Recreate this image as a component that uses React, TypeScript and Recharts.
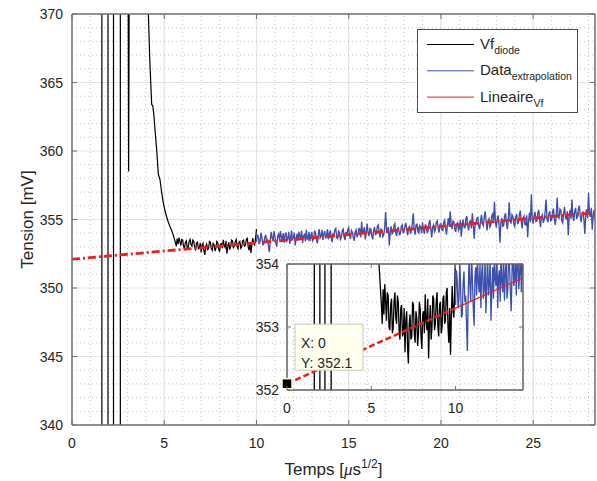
import React from 'react';
import {
  ComposedChart,
  Line,
  XAxis,
  YAxis,
  CartesianGrid,
  ReferenceLine,
  ReferenceDot,
  Legend,
} from 'recharts';

const FONT = '"Liberation Sans", Arial, Helvetica, sans-serif';
const TXT = '#262626';
const AXIS = '#707070';
const BLACK = '#000000';
const BLUE = '#3c4fae';
const RED = '#f21c1c';

// ---------- axes ----------
const mainXDomain = [0, 28.35];
const mainYDomain = [340, 370];
const mainXTicks = [0, 5, 10, 15, 20, 25];
const mainYTicks = [340, 345, 350, 355, 360, 365, 370];
const mainXMinor = [1, 2, 3, 4, 6, 7, 8, 9, 11, 12, 13, 14, 16, 17, 18, 19, 21, 22, 23, 24, 26, 27, 28];
const mainYMinor = [341, 342, 343, 344, 346, 347, 348, 349, 351, 352, 353, 354, 356, 357, 358, 359, 361, 362, 363, 364, 366, 367, 368, 369];

const insetXDomain = [0, 14];
const insetYDomain = [352, 354];
const insetXTicks = [0, 5, 10];
const insetYTicks = [352, 353, 354];

// ---------- data ----------
// Vf diode: switching transient (values outside the view are off-scale)
const transientX = [0, 1.62, 1.62, 1.95, 1.95, 2.25, 2.25, 2.62, 2.62, 3.03, 3.07, 3.12, 4.05, 4.14, 4.22, 4.32, 4.38, 4.44, 4.52, 4.59, 4.68, 4.77, 4.86, 4.95, 5.05, 5.13, 5.22, 5.31, 5.40, 5.48];
const transientY = [380, 380, 330, 330, 380, 380, 330, 330, 380, 380, 358.5, 380, 380, 370, 366.5, 363.4, 363.3, 362.6, 361.2, 360.1, 358.3, 357.9, 357.0, 356.2, 355.6, 355.2, 354.8, 354.5, 354.2, 353.9];

const sampleStep = 0.05;
// Vf diode: noisy plateau, sampled every 0.05 from 5.6 to 10.0
const blackNoiseStart = 5.6;
const blackNoiseY = [
  353.35, 353.05, 353.60, 353.20, 353.68, 353.40, 353.10, 353.55, 353.50, 353.00,
  352.95, 353.35, 353.45, 352.90, 352.98, 353.40, 353.55, 353.15, 353.05, 353.50,
  353.40, 352.95, 352.80, 353.30, 353.35, 352.85, 352.90, 353.30, 352.60, 353.10,
  353.25, 352.70, 352.42, 353.05, 353.20, 352.80, 352.85, 353.40, 353.35, 352.90,
  352.75, 353.25, 353.15, 352.70, 352.90, 353.40, 353.30, 352.85, 352.65, 353.20,
  353.25, 352.90, 353.52, 353.10, 352.95, 353.45, 352.50, 353.05, 353.35, 352.80,
  353.00, 353.50, 353.45, 352.95, 353.05, 353.40, 353.55, 353.00, 352.85, 353.35,
  353.40, 352.90, 353.00, 353.45, 353.50, 353.05, 353.10, 353.55, 353.62, 353.00,
  352.75, 353.30, 352.56, 353.20, 353.65, 353.25, 353.15, 353.60, 354.30,
];

// Data extrapolation, sampled every 0.05 from 10.0
const blueStart = 10.0;
const blueY = [
  353.35, 353.90, 353.72, 353.30, 353.45, 354.05, 353.60, 353.15, 353.20, 353.70, 353.88, 353.40, 353.50, 353.05, 352.62, 353.55, 354.10, 353.65, 353.40, 354.15,
  353.75, 353.30, 353.02, 353.80, 353.95, 353.50, 354.15, 353.70, 353.55, 354.00, 353.30, 353.85, 354.05, 353.45, 353.60, 354.10, 353.22, 353.65, 354.20, 353.50,
  353.70, 354.05, 353.10, 353.60, 353.95, 353.45, 354.12, 353.75, 353.65, 354.20, 353.30, 353.80, 353.90, 353.40, 354.25, 353.70, 353.55, 354.10, 353.42, 353.85,
  354.10, 353.45, 353.60, 354.20, 353.98, 353.55, 353.25, 353.90, 354.30, 353.65, 353.75, 354.25, 353.50, 353.95, 354.15, 353.60, 353.85, 354.30, 353.55, 353.95,
  354.20, 353.70, 353.35, 353.95, 353.90, 354.25, 354.35, 353.65, 353.60, 354.15, 354.05, 353.55, 353.70, 354.20, 354.30, 353.75, 353.50, 354.10, 353.80, 354.25,
  354.40, 353.80, 353.60, 354.20, 354.05, 353.65, 353.45, 354.10, 354.25, 353.75, 353.85, 354.35, 354.30, 353.70, 354.85, 353.95, 354.15, 354.45, 353.55, 354.05,
  354.70, 354.00, 353.80, 354.35, 354.30, 353.85, 353.55, 354.20, 354.45, 353.90, 353.95, 354.50, 354.60, 354.05, 353.70, 354.30, 354.25, 353.75, 353.90, 354.40,
  355.55, 354.30, 354.00, 354.45, 353.10, 354.10, 354.50, 353.95, 354.05, 354.55, 354.70, 354.00, 353.80, 354.35, 354.40, 353.90, 353.95, 354.50, 354.60, 354.05,
  354.10, 354.55, 354.75, 354.15, 353.85, 354.40, 354.50, 353.95, 354.20, 354.70, 355.45, 354.25, 353.90, 354.60, 354.65, 354.10, 354.00, 354.55, 354.45, 354.00,
  354.80, 354.25, 353.95, 354.60, 354.55, 354.05, 354.15, 354.75, 354.95, 354.30, 353.70, 354.45, 354.60, 354.10, 354.25, 354.80, 354.90, 354.35, 354.05, 354.65,
  354.70, 354.25, 354.20, 354.80, 354.95, 354.35, 353.90, 354.60, 355.10, 354.45, 355.60, 354.70, 354.30, 354.90, 354.85, 354.30, 354.10, 354.65, 354.75, 354.20,
  354.35, 354.95, 353.75, 354.50, 355.00, 354.45, 354.40, 355.05, 355.25, 354.55, 354.20, 354.85, 354.90, 354.35, 355.45, 354.70, 353.60, 354.60, 354.80, 355.10,
  355.15, 354.50, 354.30, 354.95, 355.35, 354.70, 354.55, 355.20, 355.60, 354.80, 354.20, 354.90, 355.05, 354.45, 354.60, 355.25, 355.40, 354.75, 356.30, 354.90,
  354.40, 355.05, 355.30, 354.60, 353.30, 354.85, 355.10, 354.50, 354.55, 355.25, 355.45, 354.75, 354.30, 355.00, 356.25, 354.95, 354.70, 355.35, 355.20, 354.65,
  354.50, 355.15, 355.40, 354.70, 354.75, 355.35, 355.65, 354.85, 354.35, 355.10, 355.25, 354.65, 354.60, 355.30, 353.70, 354.90, 355.50, 354.80, 356.85, 355.05,
  354.70, 355.30, 355.55, 354.85, 354.90, 355.50, 355.70, 354.95, 354.45, 355.20, 355.35, 354.75, 355.00, 355.60, 356.45, 355.05, 354.80, 355.40, 355.60, 354.90,
  354.95, 355.55, 355.80, 355.00, 354.60, 355.35, 356.60, 355.15, 355.10, 355.75, 355.65, 354.90, 354.75, 355.45, 355.90, 355.10, 355.05, 355.60, 353.85, 355.25,
  355.70, 355.05, 356.45, 355.20, 354.90, 355.60, 355.85, 355.10, 355.15, 355.80, 356.00, 355.25, 354.80, 355.50, 355.55, 354.95, 353.95, 355.40, 355.75, 355.10,
  356.95, 355.40, 355.20, 355.85, 354.25, 355.30, 355.70, 355.05, 355.10,
];

// Linear fit (Lineaire Vf)
const fitX = [0, 10, 28.35];
const fitY = [352.1, 353.3, 355.5];

// Legend
const legendNames = ['Vf', 'Data', 'Lineaire'];
const legendSubs = ['diode', 'extrapolation', 'Vf'];
const legendColors = [BLACK, BLUE, RED];

// ---------- build series ----------
const xAt = (start: number, i: number) => Math.round((start + i * sampleStep) * 1000) / 1000;
const blackData = [
  ...transientX.map((x, i) => ({ x, y: transientY[i] })),
  ...blackNoiseY.map((y, i) => ({ x: xAt(blackNoiseStart, i), y })),
];
const blueData = blueY.map((y, i) => ({ x: xAt(blueStart, i), y }));
const fitData = fitX.map((x, i) => ({ x, y: fitY[i] }));
const fitLeft = fitData.slice(0, 2);
const fitRight = fitData.slice(1);

// ---------- ticks ----------
type Side = 'bottom' | 'top' | 'left' | 'right';
const makeTick = (side: Side, len: number, showLabel: boolean, labelGap: number) => (p: any) => {
  const { x, y, payload } = p;
  let line: any = null;
  let label: any = null;
  if (side === 'bottom') {
    line = <line x1={x} x2={x} y1={y} y2={y - len} stroke={AXIS} strokeWidth={1} />;
    if (showLabel)
      label = (
        <text x={x} y={y + labelGap} textAnchor="middle" fontSize={14} fill={TXT} fontFamily={FONT}>
          {payload.value}
        </text>
      );
  } else if (side === 'top') {
    line = <line x1={x} x2={x} y1={y} y2={y + len} stroke={AXIS} strokeWidth={1} />;
  } else if (side === 'left') {
    line = <line x1={x} x2={x + len} y1={y} y2={y} stroke={AXIS} strokeWidth={1} />;
    if (showLabel)
      label = (
        <text x={x - labelGap} y={y} dy="0.36em" textAnchor="end" fontSize={14} fill={TXT} fontFamily={FONT}>
          {payload.value}
        </text>
      );
  } else {
    line = <line x1={x} x2={x - len} y1={y} y2={y} stroke={AXIS} strokeWidth={1} />;
  }
  return (
    <g>
      {line}
      {label}
    </g>
  );
};

const mainBottomTick = makeTick('bottom', 5, true, 23);
const mainTopTick = makeTick('top', 5, false, 0);
const mainLeftTick = makeTick('left', 5, true, 9);
const mainRightTick = makeTick('right', 5, false, 0);
const insetBottomTick = makeTick('bottom', 4, true, 23);
const insetTopTick = makeTick('top', 4, false, 0);
const insetLeftTick = makeTick('left', 4, true, 8);
const insetRightTick = makeTick('right', 4, false, 0);

// ---------- titles ----------
const XTitle = (p: any) => {
  const vb = p.viewBox || { x: 72, y: 425, width: 523, height: 56 };
  return (
    <text x={vb.x + vb.width / 2} y={vb.y + 50} textAnchor="middle" fontSize={17} fill={TXT} fontFamily={FONT}>
      Temps [
      <tspan fontStyle="italic" fontFamily='"Liberation Serif", serif'>μ</tspan>
      s
      <tspan fontSize={12} dy={-7}>1/2</tspan>
      <tspan dy={7}>]</tspan>
    </text>
  );
};

const YTitle = (p: any) => {
  const vb = p.viewBox || { x: 0, y: 14, width: 72, height: 411 };
  const cx = 33;
  const cy = vb.y + vb.height / 2;
  return (
    <text x={cx} y={cy} transform={`rotate(-90, ${cx}, ${cy})`} textAnchor="middle" fontSize={17} fill={TXT} fontFamily={FONT}>
      Tension [mV]
    </text>
  );
};

// ---------- legend ----------
const LegendBox = () => (
  <div
    style={{
      width: 161,
      height: 84,
      boxSizing: 'border-box',
      border: '1px solid #4d4d4d',
      background: '#ffffff',
    }}
  >
    <svg width={159} height={82} style={{ display: 'block' }}>
      {legendNames.map((n, i) => {
        const cy = 14.5 + i * 26.3;
        return (
          <g key={n}>
            <line x1={9} x2={56} y1={cy} y2={cy} stroke={legendColors[i]} strokeWidth={1} />
            <text x={62} y={cy + 4.5} fontSize={15} fill={TXT} fontFamily={FONT}>
              {n}
              <tspan fontSize={10.5} dy={5}>
                {legendSubs[i]}
              </tspan>
            </text>
          </g>
        );
      })}
    </svg>
  </div>
);

// ---------- data tip ----------
const DataTip = (p: any) => {
  const { cx, cy } = p;
  return (
    <g>
      <rect x={cx + 8} y={cy - 59.5} width={68} height={46} fill="#ffffee" stroke="#c9c9b8" strokeWidth={1} />
      <text x={cx + 14} y={cy - 36} fontSize={14} fill={TXT} fontFamily={FONT}>
        {`X: ${fitX[0]}`}
      </text>
      <text x={cx + 14} y={cy - 16} fontSize={14} fill={TXT} fontFamily={FONT}>
        {`Y: ${fitY[0]}`}
      </text>
      <rect x={cx - 5} y={cy - 5} width={10} height={10} fill="#000000" stroke="#ffffe0" strokeWidth={1.5} />
    </g>
  );
};

const axisLineStyle = { stroke: AXIS, strokeWidth: 1.5 };
const insetAxisLineStyle = { stroke: '#606060', strokeWidth: 1.5 };

const seriesProps = { dataKey: 'y', type: 'linear' as const, dot: false, activeDot: false, isAnimationActive: false };

export default function App() {
  return (
    <div style={{ position: 'absolute', left: 0, top: 0, width: 597, height: 481, background: '#ffffff', fontFamily: FONT }}>
      <div style={{ position: 'absolute', left: 0, top: 0 }}>
        <ComposedChart width={597} height={481} margin={{ top: 13, right: 1, bottom: 0, left: 0 }}>
          <CartesianGrid stroke="#e3e3e3" strokeWidth={1.2} />
          {mainXMinor.map((v) => (
            <ReferenceLine key={'mx' + v} x={v} stroke="#c4c4c4" strokeDasharray="1 3" />
          ))}
          {mainYMinor.map((v) => (
            <ReferenceLine key={'my' + v} y={v} stroke="#c4c4c4" strokeDasharray="1 3" />
          ))}
          <XAxis
            type="number"
            dataKey="x"
            domain={mainXDomain}
            ticks={mainXTicks}
            interval={0}
            allowDataOverflow
            height={56}
            tickSize={0}
            tickMargin={0}
            tickLine={false}
            axisLine={axisLineStyle}
            tick={mainBottomTick}
            label={<XTitle />}
          />
          <XAxis
            xAxisId="top"
            orientation="top"
            type="number"
            dataKey="x"
            domain={mainXDomain}
            ticks={mainXTicks}
            interval={0}
            allowDataOverflow
            height={1}
            tickSize={0}
            tickMargin={0}
            tickLine={false}
            axisLine={axisLineStyle}
            tick={mainTopTick}
          />
          <YAxis
            type="number"
            domain={mainYDomain}
            ticks={mainYTicks}
            interval={0}
            allowDataOverflow
            width={72}
            tickSize={0}
            tickMargin={0}
            tickLine={false}
            axisLine={axisLineStyle}
            tick={mainLeftTick}
            label={<YTitle />}
          />
          <YAxis
            yAxisId="right"
            orientation="right"
            type="number"
            domain={mainYDomain}
            ticks={mainYTicks}
            interval={0}
            allowDataOverflow
            width={1}
            tickSize={0}
            tickMargin={0}
            tickLine={false}
            axisLine={axisLineStyle}
            tick={mainRightTick}
          />
          <Legend
            layout="vertical"
            verticalAlign="middle"
            align="center"
            wrapperStyle={{ left: 417, top: 29, width: 161, height: 84 }}
            content={LegendBox}
          />
          <Line data={blackData} {...seriesProps} stroke={BLACK} strokeWidth={1.2} />
          <Line data={blueData} {...seriesProps} stroke={BLUE} strokeWidth={1.35} />
          <Line data={fitData} {...seriesProps} stroke={RED} strokeWidth={2.8} strokeDasharray="8 3 2 3" />
        </ComposedChart>
      </div>
      <div style={{ position: 'absolute', left: 0, top: 0 }}>
        <ComposedChart width={597} height={481} margin={{ top: 263, right: 73, bottom: 0, left: 0 }}>
          <XAxis
            type="number"
            dataKey="x"
            domain={insetXDomain}
            ticks={insetXTicks}
            interval={0}
            allowDataOverflow
            height={91}
            tickSize={0}
            tickMargin={0}
            tickLine={false}
            axisLine={insetAxisLineStyle}
            tick={insetBottomTick}
          />
          <XAxis
            xAxisId="top"
            orientation="top"
            type="number"
            dataKey="x"
            domain={insetXDomain}
            ticks={insetXTicks}
            interval={0}
            allowDataOverflow
            height={1}
            tickSize={0}
            tickMargin={0}
            tickLine={false}
            axisLine={insetAxisLineStyle}
            tick={insetTopTick}
          />
          <YAxis
            type="number"
            domain={insetYDomain}
            ticks={insetYTicks}
            interval={0}
            allowDataOverflow
            width={287}
            tickSize={0}
            tickMargin={0}
            tickLine={false}
            axisLine={insetAxisLineStyle}
            tick={insetLeftTick}
          />
          <YAxis
            yAxisId="right"
            orientation="right"
            type="number"
            domain={insetYDomain}
            ticks={insetYTicks}
            interval={0}
            allowDataOverflow
            width={1}
            tickSize={0}
            tickMargin={0}
            tickLine={false}
            axisLine={insetAxisLineStyle}
            tick={insetRightTick}
          />
          <Line data={blackData} {...seriesProps} stroke={BLACK} strokeWidth={1.3} />
          <Line data={blueData} {...seriesProps} stroke={BLUE} strokeWidth={1.3} />
          <Line data={fitLeft} {...seriesProps} stroke={RED} strokeWidth={2.5} strokeDasharray="6 3" />
          <Line data={fitRight} {...seriesProps} stroke={RED} strokeWidth={1.2} />
          <ReferenceDot x={fitX[0]} y={fitY[0]} ifOverflow="visible" shape={DataTip} />
        </ComposedChart>
      </div>
    </div>
  );
}
